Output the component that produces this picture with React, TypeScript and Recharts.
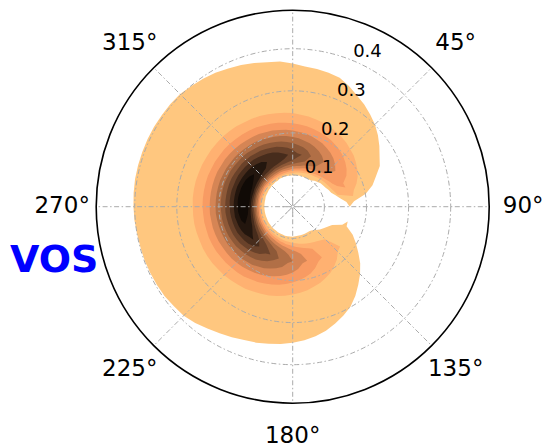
import { RadarChart, Radar, PolarAngleAxis, PolarRadiusAxis, PolarGrid } from 'recharts';

// angular samples in degrees, clockwise from north, 5 deg apart
const thetas = [
  0, 5, 10, 15, 20, 25, 30, 35, 40, 45, 50, 55, 60, 65, 70, 75, 80, 85,
  90, 95, 100, 105, 110, 115, 120, 125, 130, 135, 140, 145, 150, 155, 160, 165, 170, 175,
  180, 185, 190, 195, 200, 205, 210, 215, 220, 225, 230, 235, 240, 245, 250, 255, 260, 265,
  270, 275, 280, 285, 290, 295, 300, 305, 310, 315, 320, 325, 330, 335, 340, 345, 350, 355,
];

const angleTicks = [0, 45, 90, 135, 180, 225, 270, 315];
const radiusTicks = [0.1, 0.2, 0.3, 0.4];
const rMin = 0.0247;
const rMax = 0.4915;
const radialLabelPos = 22.5;
// radius where the empty opening (between the two lobes) closes up
const gapRadius = 0.16;

// contour colours (copper), darkest level first
const levelColors = [
  '#100a06', '#23160e', '#472c1c', '#6a422a', '#8e5938',
  '#b16f46', '#d58555', '#f89b63', '#ffb171', '#ffc77f',
];

// every level: [theta, r inner, r outer] where that level's fill crosses the ray
const level0 = [
  [255, 0.138, 0.151], [260, 0.133, 0.153], [265, 0.131, 0.155], [270, 0.129, 0.155], [275, 0.128, 0.156],
  [280, 0.128, 0.156], [285, 0.129, 0.155], [290, 0.130, 0.155], [295, 0.131, 0.154], [300, 0.134, 0.153],
  [305, 0.138, 0.150],
];

const level1 = [
  [235, 0.141, 0.150], [240, 0.135, 0.156], [245, 0.131, 0.159], [250, 0.129, 0.161], [255, 0.127, 0.162],
  [260, 0.126, 0.164], [265, 0.125, 0.164], [270, 0.124, 0.165], [275, 0.124, 0.165], [280, 0.124, 0.165],
  [285, 0.124, 0.165], [290, 0.124, 0.165], [295, 0.125, 0.164], [300, 0.126, 0.163], [305, 0.127, 0.162],
  [310, 0.128, 0.161], [315, 0.130, 0.160], [320, 0.133, 0.157], [325, 0.136, 0.154],
];

const level2 = [
  [225, 0.137, 0.157], [230, 0.132, 0.162], [235, 0.129, 0.165], [240, 0.127, 0.167], [245, 0.125, 0.170],
  [250, 0.123, 0.171], [255, 0.122, 0.172], [260, 0.121, 0.173], [265, 0.121, 0.174], [270, 0.120, 0.174],
  [275, 0.120, 0.175], [280, 0.120, 0.175], [285, 0.120, 0.175], [290, 0.120, 0.174], [295, 0.121, 0.174],
  [300, 0.121, 0.174], [305, 0.122, 0.173], [310, 0.123, 0.172], [315, 0.124, 0.171], [320, 0.125, 0.170],
  [325, 0.126, 0.168], [330, 0.128, 0.166], [335, 0.130, 0.164], [340, 0.132, 0.162], [345, 0.135, 0.158],
  [350, 0.140, 0.153],
];

const level3 = [
  [210, 0.141, 0.153], [215, 0.134, 0.162], [220, 0.130, 0.167], [225, 0.127, 0.171], [230, 0.125, 0.174],
  [235, 0.123, 0.177], [240, 0.121, 0.179], [245, 0.120, 0.181], [250, 0.119, 0.182], [255, 0.118, 0.183],
  [260, 0.117, 0.184], [265, 0.117, 0.185], [270, 0.117, 0.185], [275, 0.116, 0.185], [280, 0.116, 0.185],
  [285, 0.116, 0.185], [290, 0.117, 0.185], [295, 0.117, 0.185], [300, 0.117, 0.184], [305, 0.118, 0.183],
  [310, 0.119, 0.183], [315, 0.119, 0.182], [320, 0.120, 0.181], [325, 0.121, 0.179], [330, 0.122, 0.178],
  [335, 0.124, 0.176], [340, 0.125, 0.174], [345, 0.127, 0.172], [350, 0.129, 0.169], [355, 0.132, 0.165],
  [0, 0.135, 0.160], [5, 0.142, 0.152],
];

const level4 = [
  [200, 0.137, 0.160], [205, 0.132, 0.168], [210, 0.128, 0.173], [215, 0.125, 0.178], [220, 0.123, 0.181],
  [225, 0.121, 0.184], [230, 0.119, 0.186], [235, 0.118, 0.189], [240, 0.117, 0.190], [245, 0.116, 0.192],
  [250, 0.115, 0.193], [255, 0.114, 0.194], [260, 0.114, 0.195], [265, 0.113, 0.195], [270, 0.113, 0.196],
  [275, 0.113, 0.196], [280, 0.113, 0.196], [285, 0.113, 0.196], [290, 0.113, 0.196], [295, 0.113, 0.195],
  [300, 0.114, 0.195], [305, 0.114, 0.194], [310, 0.115, 0.193], [315, 0.115, 0.193], [320, 0.116, 0.192],
  [325, 0.117, 0.190], [330, 0.118, 0.189], [335, 0.119, 0.188], [340, 0.120, 0.186], [345, 0.121, 0.184],
  [350, 0.123, 0.182], [355, 0.124, 0.179], [0, 0.126, 0.176], [5, 0.129, 0.172], [10, 0.132, 0.168],
  [15, 0.136, 0.162],
];

const level5 = [
  [185, 0.139, 0.159], [190, 0.132, 0.170], [195, 0.128, 0.176], [200, 0.125, 0.181], [205, 0.123, 0.186],
  [210, 0.121, 0.189], [215, 0.119, 0.193], [220, 0.117, 0.195], [225, 0.116, 0.198], [230, 0.114, 0.199],
  [235, 0.113, 0.201], [240, 0.112, 0.203], [245, 0.112, 0.204], [250, 0.111, 0.205], [255, 0.111, 0.206],
  [260, 0.110, 0.207], [265, 0.110, 0.208], [270, 0.110, 0.208], [275, 0.109, 0.208], [280, 0.109, 0.208],
  [285, 0.109, 0.208], [290, 0.110, 0.208], [295, 0.110, 0.207], [300, 0.110, 0.207], [305, 0.110, 0.206],
  [310, 0.111, 0.206], [315, 0.111, 0.205], [320, 0.112, 0.204], [325, 0.112, 0.203], [330, 0.113, 0.202],
  [335, 0.114, 0.200], [340, 0.115, 0.198], [345, 0.116, 0.197], [350, 0.117, 0.195], [355, 0.118, 0.193],
  [0, 0.120, 0.190], [5, 0.122, 0.188], [10, 0.123, 0.184], [15, 0.126, 0.181], [20, 0.128, 0.176],
  [25, 0.131, 0.171], [30, 0.135, 0.164],
];

const level6 = [
  [170, 0.139, 0.161], [175, 0.132, 0.173], [180, 0.128, 0.181], [185, 0.125, 0.187], [190, 0.122, 0.192],
  [195, 0.120, 0.196], [200, 0.118, 0.200], [205, 0.116, 0.203], [210, 0.114, 0.206], [215, 0.113, 0.208],
  [220, 0.112, 0.211], [225, 0.111, 0.213], [230, 0.110, 0.215], [235, 0.109, 0.216], [240, 0.108, 0.217],
  [245, 0.108, 0.219], [250, 0.107, 0.220], [255, 0.107, 0.221], [260, 0.106, 0.221], [265, 0.106, 0.222],
  [270, 0.106, 0.222], [275, 0.106, 0.222], [280, 0.106, 0.222], [285, 0.106, 0.222], [290, 0.106, 0.222],
  [295, 0.106, 0.222], [300, 0.106, 0.221], [305, 0.107, 0.221], [310, 0.107, 0.220], [315, 0.107, 0.219],
  [320, 0.108, 0.218], [325, 0.108, 0.217], [330, 0.109, 0.216], [335, 0.110, 0.215], [340, 0.111, 0.213],
  [345, 0.112, 0.212], [350, 0.112, 0.210], [355, 0.113, 0.208], [0, 0.115, 0.206], [5, 0.116, 0.203],
  [10, 0.117, 0.201], [15, 0.119, 0.198], [20, 0.121, 0.194], [25, 0.122, 0.191], [30, 0.125, 0.186],
  [35, 0.127, 0.181], [40, 0.131, 0.175], [45, 0.135, 0.167],
];

const level7 = [
  [155, 0.135, 0.169], [160, 0.130, 0.180], [165, 0.126, 0.189], [170, 0.123, 0.195], [175, 0.121, 0.200],
  [180, 0.118, 0.205], [185, 0.116, 0.209], [190, 0.115, 0.213], [195, 0.113, 0.216], [200, 0.112, 0.219],
  [205, 0.110, 0.222], [210, 0.109, 0.224], [215, 0.108, 0.227], [220, 0.107, 0.229], [225, 0.106, 0.230],
  [230, 0.106, 0.232], [235, 0.105, 0.233], [240, 0.104, 0.235], [245, 0.104, 0.236], [250, 0.103, 0.237],
  [255, 0.103, 0.237], [260, 0.103, 0.238], [265, 0.102, 0.238], [270, 0.102, 0.239], [275, 0.102, 0.239],
  [280, 0.102, 0.239], [285, 0.102, 0.239], [290, 0.102, 0.239], [295, 0.102, 0.238], [300, 0.103, 0.238],
  [305, 0.103, 0.237], [310, 0.103, 0.237], [315, 0.104, 0.236], [320, 0.104, 0.235], [325, 0.105, 0.234],
  [330, 0.105, 0.233], [335, 0.106, 0.232], [340, 0.106, 0.230], [345, 0.107, 0.229], [350, 0.108, 0.227],
  [355, 0.109, 0.225], [0, 0.110, 0.223], [5, 0.111, 0.221], [10, 0.112, 0.219], [15, 0.113, 0.216],
  [20, 0.114, 0.213], [25, 0.116, 0.210], [30, 0.117, 0.207], [35, 0.119, 0.203], [40, 0.121, 0.199],
  [45, 0.124, 0.194], [50, 0.126, 0.188], [55, 0.130, 0.181], [60, 0.134, 0.172], [65, 0.141, 0.157],
];

const level8 = [
  [135, 0.134, 0.176], [140, 0.129, 0.188], [145, 0.125, 0.197], [150, 0.122, 0.205], [155, 0.120, 0.211],
  [160, 0.118, 0.217], [165, 0.116, 0.221], [170, 0.114, 0.226], [175, 0.112, 0.230], [180, 0.111, 0.233],
  [185, 0.109, 0.237], [190, 0.108, 0.240], [195, 0.107, 0.243], [200, 0.106, 0.245], [205, 0.105, 0.247],
  [210, 0.104, 0.250], [215, 0.103, 0.251], [220, 0.102, 0.253], [225, 0.102, 0.255], [230, 0.101, 0.256],
  [235, 0.101, 0.258], [240, 0.100, 0.259], [245, 0.100, 0.260], [250, 0.100, 0.260], [255, 0.099, 0.261],
  [260, 0.099, 0.262], [265, 0.099, 0.262], [270, 0.099, 0.262], [275, 0.099, 0.263], [280, 0.099, 0.263],
  [285, 0.099, 0.263], [290, 0.099, 0.262], [295, 0.099, 0.262], [300, 0.099, 0.261], [305, 0.099, 0.261],
  [310, 0.100, 0.260], [315, 0.100, 0.260], [320, 0.100, 0.259], [325, 0.101, 0.258], [330, 0.101, 0.256],
  [335, 0.102, 0.255], [340, 0.102, 0.254], [345, 0.103, 0.252], [350, 0.104, 0.250], [355, 0.104, 0.249],
  [0, 0.105, 0.247], [5, 0.106, 0.244], [10, 0.107, 0.242], [15, 0.108, 0.239], [20, 0.109, 0.237],
  [25, 0.111, 0.234], [30, 0.112, 0.230], [35, 0.113, 0.227], [40, 0.115, 0.223], [45, 0.117, 0.218],
  [50, 0.119, 0.214], [55, 0.121, 0.208], [60, 0.123, 0.202], [65, 0.126, 0.195], [70, 0.130, 0.186],
  [75, 0.135, 0.175],
];

// outermost (lightest) level = the whole filled C shape
const level9 = [
  [0, 0.099, 0.365], [5, 0.099, 0.359], [10, 0.100, 0.357], [15, 0.100, 0.354], [20, 0.100, 0.351],
  [25, 0.100, 0.341], [30, 0.100, 0.330], [35, 0.101, 0.321], [40, 0.105, 0.311], [45, 0.108, 0.301],
  [50, 0.111, 0.289], [55, 0.113, 0.276], [60, 0.115, 0.263], [65, 0.119, 0.253], [70, 0.122, 0.235],
  [75, 0.130, 0.221], [80, 0.139, 0.201], [85, 0.153, 0.171],
  [110, 0.150, 0.161], [115, 0.128, 0.182], [120, 0.120, 0.198], [125, 0.114, 0.215], [130, 0.109, 0.234],
  [135, 0.103, 0.251], [140, 0.098, 0.267], [145, 0.095, 0.284], [150, 0.095, 0.299], [155, 0.095, 0.310],
  [160, 0.095, 0.320], [165, 0.095, 0.330], [170, 0.095, 0.337], [175, 0.095, 0.343], [180, 0.096, 0.348],
  [185, 0.096, 0.352], [190, 0.096, 0.355], [195, 0.096, 0.359], [200, 0.095, 0.362], [205, 0.095, 0.367],
  [210, 0.095, 0.372], [215, 0.094, 0.378], [220, 0.094, 0.385], [225, 0.094, 0.391], [230, 0.093, 0.393],
  [235, 0.093, 0.396], [240, 0.093, 0.397], [245, 0.092, 0.398], [250, 0.092, 0.399], [255, 0.092, 0.399],
  [260, 0.092, 0.400], [265, 0.092, 0.402], [270, 0.092, 0.403], [275, 0.092, 0.404], [280, 0.092, 0.405],
  [285, 0.092, 0.405], [290, 0.093, 0.405], [295, 0.093, 0.405], [300, 0.093, 0.405], [305, 0.094, 0.404],
  [310, 0.094, 0.404], [315, 0.095, 0.403], [320, 0.095, 0.399], [325, 0.096, 0.396], [330, 0.096, 0.392],
  [335, 0.098, 0.387], [340, 0.098, 0.383], [345, 0.099, 0.378], [350, 0.099, 0.373], [355, 0.099, 0.371],
];

const levels = [level0, level1, level2, level3, level4, level5, level6, level7, level8, level9];
const TOP = levels.length - 1;

// each level becomes a ring [inner, outer] per ray; where it does not reach a ray
// the ring pinches shut on the middle of the deepest level found there
const rows: any[] = thetas.map((theta) => {
  const spans = levels.map((lv) => lv.find((e) => e[0] === theta));
  const m = spans.findIndex((s) => s !== undefined);
  const mid = m < 0 ? gapRadius : (spans[m]![1] + spans[m]![2]) / 2;
  const row: any = { theta };
  spans.forEach((s, k) => {
    row[`l${k}`] = s ? [s[1], s[2]] : [mid, mid];
  });
  return row;
});
// close the rings: repeat the first ray one full turn later
rows.push({ ...rows[0], theta: 360 });

const paintOrder = levels.map((_, k) => TOP - k);

const OUTER = 196.5;
// the radial axis starts at rMin, not at the centre
const INNER = (-OUTER * rMin) / (rMax - rMin);

const AngleTick = (props: any) => {
  const { x, y, payload } = props;
  // the 0° label sits above the picture, as in the original
  if (payload.value === 0) return null;
  return (
    <text x={x} y={y - 2} textAnchor="middle" dominantBaseline="central" fontSize={23} fontFamily="DejaVu Sans" fill="#000">
      {`${payload.value}°`}
    </text>
  );
};

const RadiusTick = (props: any) => {
  const { x, y, payload } = props;
  return (
    <text x={x} y={y - 4} textAnchor="start" fontSize={18} fontFamily="DejaVu Sans" fill="#000">
      {payload.value}
    </text>
  );
};

export default function App() {
  return (
    <div style={{ position: 'absolute', left: 0, top: 0, width: 544, height: 447, background: '#fff' }}>
      <RadarChart
        width={544}
        height={447}
        data={rows}
        cx={292.7}
        cy={206.7}
        innerRadius={INNER}
        outerRadius={OUTER}
        startAngle={90}
        endAngle={-270}
        margin={{ top: 0, right: 0, bottom: 0, left: 0 }}
      >
        {paintOrder.map((k) => (
          <Radar
            key={`l${k}`}
            dataKey={`l${k}`}
            fill={levelColors[k]}
            fillOpacity={1}
            stroke="none"
            dot={false}
            isAnimationActive={false}
          />
        ))}

        <PolarGrid
          gridType="circle"
          stroke="#ababab"
          strokeWidth={1}
          strokeDasharray="5 2.5 1.5 2.5"
          zIndex={400}
        />
        <PolarRadiusAxis
          type="number"
          domain={[0, rMax]}
          allowDataOverflow
          ticks={radiusTicks}
          angle={90 - radialLabelPos}
          axisLine={false}
          tickLine={false}
          tick={<RadiusTick />}
        />
        <PolarAngleAxis
          dataKey="theta"
          type="number"
          domain={[0, 360]}
          allowDataOverflow
          ticks={angleTicks}
          tick={<AngleTick />}
          tickLine={false}
          tickSize={34}
          axisLineType="circle"
          axisLine={{ stroke: '#000', strokeWidth: 1.6 }}
        />
      </RadarChart>
      <div
        style={{
          position: 'absolute',
          left: 10,
          top: 240,
          fontFamily: 'DejaVu Sans',
          fontWeight: 'bold',
          fontSize: 38,
          lineHeight: '38px',
          color: '#0000ff',
        }}
      >
        VOS
      </div>
    </div>
  );
}
